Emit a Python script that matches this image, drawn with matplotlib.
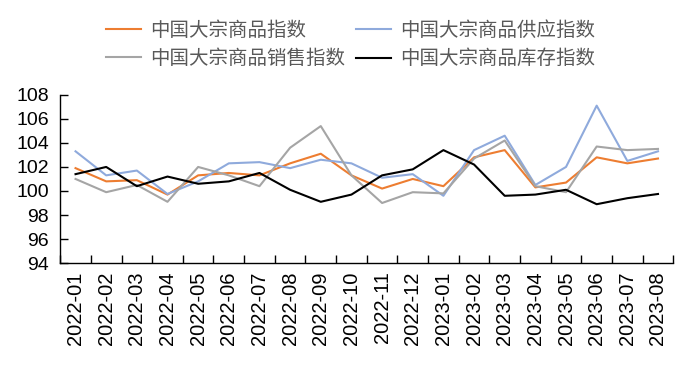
import matplotlib.pyplot as plt

plt.rcParams['font.family'] = ['Liberation Sans', 'Noto Sans CJK SC', 'DejaVu Sans']

months = ['2022-01', '2022-02', '2022-03', '2022-04', '2022-05', '2022-06', '2022-07',
          '2022-08', '2022-09', '2022-10', '2022-11', '2022-12', '2023-01', '2023-02',
          '2023-03', '2023-04', '2023-05', '2023-06', '2023-07', '2023-08']

composite = [101.9, 100.8, 100.9, 99.7, 101.3, 101.5, 101.3, 102.3, 103.1, 101.3,
             100.2, 101.0, 100.4, 102.8, 103.4, 100.3, 100.7, 102.8, 102.3, 102.7]
supply = [103.3, 101.3, 101.7, 99.75, 100.8, 102.3, 102.4, 101.9, 102.6, 102.3,
          101.1, 101.4, 99.6, 103.4, 104.6, 100.5, 102.0, 107.1, 102.5, 103.3]
sales = [101.0, 99.9, 100.5, 99.1, 102.0, 101.3, 100.4, 103.6, 105.4, 101.3,
         99.0, 99.9, 99.8, 102.7, 104.2, 100.4, 99.9, 103.7, 103.4, 103.5]
inventory = [101.4, 102.0, 100.4, 101.2, 100.6, 100.8, 101.5, 100.1, 99.1, 99.7,
             101.3, 101.8, 103.4, 102.2, 99.6, 99.7, 100.1, 98.9, 99.4, 99.75]

names = ['中国大宗商品指数', '中国大宗商品供应指数', '中国大宗商品销售指数', '中国大宗商品库存指数']
colors = ['#ED7D31', '#8FAADC', '#A5A5A5', '#000000']

fig = plt.figure(figsize=(6.92, 3.69), dpi=100)
ax = fig.add_axes([0.087, 0.287, 0.886, 0.456])

x = range(len(months))
lines = []
for series, name, c in zip([composite, supply, sales, inventory], names, colors):
    ln, = ax.plot(x, series, color=c, lw=1.5, label=name)
    lines.append(ln)

ax.set_xlim(-0.5, len(months) - 0.5)
ax.set_ylim(94, 108)
ax.set_yticks(range(94, 109, 2))
ax.set_xticks(list(x))
ax.set_xticklabels(months, rotation=90, fontsize=14.5)
ax.set_xticks([i + 0.5 for i in range(-1, len(months))], minor=True)
ax.tick_params(axis='x', which='major', length=0, pad=6)
ax.tick_params(axis='x', which='minor', direction='in', length=6, width=1)
ax.tick_params(axis='y', direction='in', length=6, width=1, labelsize=14, pad=8)
for s in ['top', 'right']:
    ax.spines[s].set_visible(False)
for s in ['left', 'bottom']:
    ax.spines[s].set_linewidth(1)

# legend: two rows across the top (column-major order -> reorder)
order = [0, 2, 1, 3]
leg = fig.legend([lines[i] for i in order], [names[i] for i in order],
                 loc='upper left', bbox_to_anchor=(0.128, 0.99), ncol=2, frameon=False,
                 fontsize=14, handlelength=1.8, columnspacing=0.6, handletextpad=0.45,
                 labelspacing=0.5)
for t in leg.get_texts():
    t.set_color('#595959')

fig.savefig('out.png', dpi=100)
